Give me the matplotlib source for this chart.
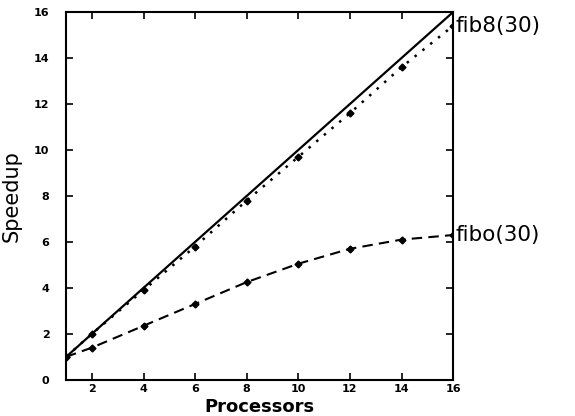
import matplotlib
matplotlib.use("Agg")
import matplotlib.pyplot as plt

procs = [1, 2, 4, 6, 8, 10, 12, 14, 16]
fib8 = [1.0, 2.0, 3.9, 5.8, 7.8, 9.7, 11.6, 13.6, 15.4]
fibo = [1.0, 1.4, 2.35, 3.3, 4.25, 5.05, 5.7, 6.1, 6.3]
ideal = [1, 16]

fig = plt.figure(figsize=(5.75, 4.16), dpi=100)
ax = fig.add_axes([0.115, 0.087, 0.673, 0.884])

ax.plot(ideal, ideal, color="black", lw=1.6)
ax.plot(procs, fib8, color="black", lw=1.8, ls=(0, (1, 3)), marker="D", ms=3.5)
ax.plot(procs, fibo, color="black", lw=1.5, ls=(0, (5, 3)), marker="D", ms=3.5)

ax.text(16.1, fib8[-1], "fib8(30)", fontsize=15.5, va="center", ha="left")
ax.text(16.1, fibo[-1], "fibo(30)", fontsize=15.5, va="center", ha="left")

ax.set_xlim(1, 16)
ax.set_ylim(0, 16)
ax.set_xticks(range(2, 17, 2))
ax.set_yticks(range(0, 17, 2))
ax.tick_params(direction="in", top=True, right=True, length=5, width=1.2,
               labelsize=8, pad=3)
for lab in ax.get_xticklabels() + ax.get_yticklabels():
    lab.set_fontweight("bold")
ax.tick_params(axis="y", pad=12)
for s in ax.spines.values():
    s.set_linewidth(1.5)

ax.set_xlabel("Processors", fontsize=13, fontweight="bold")
ax.xaxis.set_label_coords(0.5, -0.05)
ax.set_ylabel("Speedup", fontsize=15)
ax.yaxis.set_label_coords(-0.115, 0.5)

fig.savefig("out.png", dpi=100)
